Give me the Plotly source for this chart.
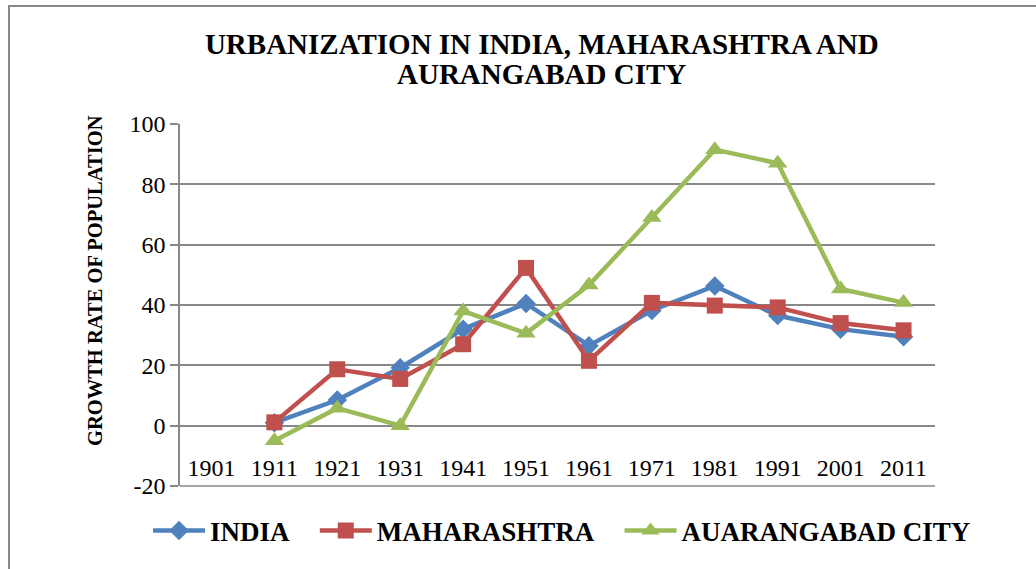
import plotly.graph_objects as go

years = ["1901", "1911", "1921", "1931", "1941", "1951", "1961", "1971", "1981", "1991", "2001", "2011"]
india = [None, 1.0, 8.5, 19.2, 32.0, 40.5, 26.5, 38.2, 46.3, 36.5, 32.0, 29.5]
maharashtra = [None, 1.1, 18.7, 15.5, 27.0, 52.3, 21.5, 40.7, 39.8, 39.2, 34.0, 31.6]
aurangabad = [None, -5.0, 5.8, 0.0, 38.0, 30.6, 46.6, 69.0, 91.5, 87.0, 45.3, 40.8]

y_ticks = [-20, 0, 20, 40, 60, 80, 100]
y_tick_labels = ["-20", "0", "20", "40", "60", "80", "100"]

names = ["INDIA", "MAHARASHTRA", "AUARANGABAD CITY"]
title_lines = ["URBANIZATION IN INDIA, MAHARASHTRA AND", "AURANGABAD CITY"]
y_title = "GROWTH RATE OF POPULATION"

colors = ["#4F81BD", "#C0504D", "#9BBB59"]
symbols = ["diamond", "square", "triangle-up"]
sizes = [15, 16, 17]
pads = ["\u00a0" * 3, "\u00a0" * 3, ""]

FONT = "Liberation Serif, Times New Roman, serif"
GRID = "#888888"
W, H = 1036, 569
L, R, T, B = 180, 101, 124, 83
PW, PH = W - L - R, H - T - B

def px(x):
    return (x - L) / PW

def py(y):
    return (H - B - y) / PH

fig = go.Figure()
for name, vals, c, s, sz, pad in zip(names, [india, maharashtra, aurangabad], colors, symbols, sizes, pads):
    fig.add_trace(go.Scatter(
        x=years, y=vals, name="<b>" + name + "</b>" + pad, mode="lines+markers",
        line=dict(color=c, width=4.5),
        marker=dict(symbol=s, size=sz, color=c),
    ))

fig.update_layout(
    width=W, height=H,
    margin=dict(l=L, r=R, t=T, b=B, autoexpand=False),
    paper_bgcolor="white", plot_bgcolor="white",
    font=dict(family=FONT, color="black", size=24),
    title=dict(
        text="<b>" + title_lines[0] + "</b>",
        x=0.523, xanchor="center", y=1 - 44 / H, yanchor="middle",
        font=dict(family=FONT, size=29, color="black"),
    ),
    showlegend=True,
    legend=dict(
        orientation="h", xref="paper", yref="paper",
        x=px(148), xanchor="left", y=py(531), yanchor="middle",
        font=dict(family=FONT, size=27, color="black"),
        itemwidth=52, tracegroupgap=0,
    ),
)
fig.add_annotation(
    text="<b>" + title_lines[1] + "</b>",
    xref="paper", yref="paper", x=(0.523 * W - L) / PW, y=py(74),
    xanchor="center", yanchor="middle", showarrow=False,
    font=dict(family=FONT, size=29, color="black"),
)
fig.update_xaxes(
    type="category", categoryorder="array", categoryarray=years,
    showgrid=False, showline=False, zeroline=False,
    ticks="", anchor="free", position=py(451),
    tickfont=dict(family=FONT, size=24, color="black"),
    range=[-0.5, 11.5],
)
fig.update_yaxes(
    range=[-20, 100], tickmode="array", tickvals=y_ticks, ticktext=y_tick_labels,
    showgrid=True, gridcolor=GRID, gridwidth=1.5,
    zeroline=False, showline=True, linecolor=GRID, linewidth=1.5,
    ticks="outside", ticklen=8, tickcolor=GRID, tickwidth=1.5,
    tickfont=dict(family=FONT, size=24, color="black"),
)
fig.add_shape(
    type="line", xref="paper", yref="paper", x0=0, x1=1, y0=0, y1=0,
    line=dict(color=GRID, width=1.5),
)
fig.add_annotation(
    text="<b>" + y_title + "</b>", textangle=-90,
    xref="paper", yref="paper", x=px(95), y=py(281),
    xanchor="center", yanchor="middle", showarrow=False,
    font=dict(family=FONT, size=20.5, color="black"),
)
fig.add_shape(
    type="rect", xref="paper", yref="paper",
    x0=px(9), x1=px(1045), y0=py(580), y1=py(6),
    line=dict(color=GRID, width=2), fillcolor="rgba(0,0,0,0)", layer="below",
)

fig.write_html(
    "out.html",
    config={"displayModeBar": False},
    post_script="document.body.style.margin='0';",
)
